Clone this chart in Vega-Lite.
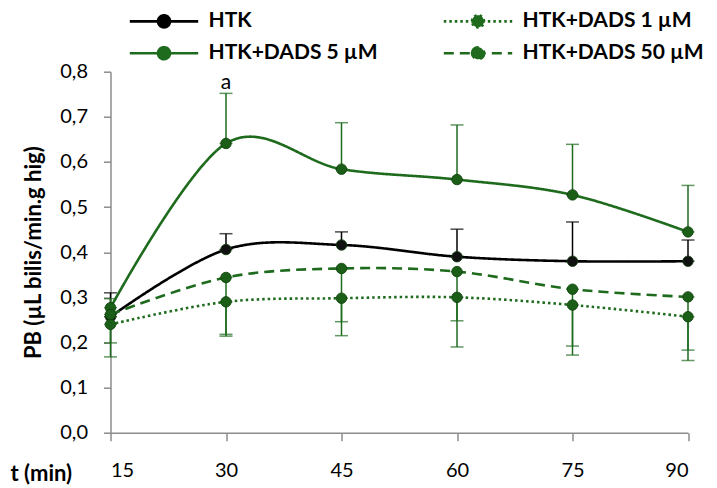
{
  "$schema": "https://vega.github.io/schema/vega-lite/v6.json",
  "autosize": {"type": "none"},
  "padding": {"left": 110.5, "top": 71.7, "right": 29, "bottom": 55.3},
  "width": 577.5,
  "height": 361,
  "background": "white",
  "config": {
    "view": {"stroke": null},
    "font": "Lato"
  },
  "data": {
    "values": [
      {"series": "HTK", "t": 15, "pb": 0.257, "lo": 0.257, "hi": 0.31},
      {"series": "HTK", "t": 30, "pb": 0.406, "lo": 0.406, "hi": 0.441},
      {"series": "HTK", "t": 45, "pb": 0.416, "lo": 0.416, "hi": 0.445},
      {"series": "HTK", "t": 60, "pb": 0.39, "lo": 0.39, "hi": 0.451},
      {"series": "HTK", "t": 75, "pb": 0.38, "lo": 0.38, "hi": 0.467},
      {"series": "HTK", "t": 90, "pb": 0.38, "lo": 0.38, "hi": 0.427},
      {"series": "HTK+DADS 5 µM", "t": 15, "pb": 0.277, "lo": 0.277, "hi": 0.297},
      {"series": "HTK+DADS 5 µM", "t": 30, "pb": 0.641, "lo": 0.641, "hi": 0.752},
      {"series": "HTK+DADS 5 µM", "t": 45, "pb": 0.584, "lo": 0.584, "hi": 0.687},
      {"series": "HTK+DADS 5 µM", "t": 60, "pb": 0.561, "lo": 0.561, "hi": 0.682},
      {"series": "HTK+DADS 5 µM", "t": 75, "pb": 0.527, "lo": 0.527, "hi": 0.639},
      {"series": "HTK+DADS 5 µM", "t": 90, "pb": 0.445, "lo": 0.445, "hi": 0.548},
      {"series": "HTK+DADS 1 µM", "t": 15, "pb": 0.24, "lo": 0.199, "hi": 0.24},
      {"series": "HTK+DADS 1 µM", "t": 30, "pb": 0.29, "lo": 0.218, "hi": 0.29},
      {"series": "HTK+DADS 1 µM", "t": 45, "pb": 0.298, "lo": 0.246, "hi": 0.298},
      {"series": "HTK+DADS 1 µM", "t": 60, "pb": 0.3, "lo": 0.248, "hi": 0.3},
      {"series": "HTK+DADS 1 µM", "t": 75, "pb": 0.283, "lo": 0.192, "hi": 0.283},
      {"series": "HTK+DADS 1 µM", "t": 90, "pb": 0.257, "lo": 0.183, "hi": 0.257},
      {"series": "HTK+DADS 50 µM", "t": 15, "pb": 0.262, "lo": 0.168, "hi": 0.262},
      {"series": "HTK+DADS 50 µM", "t": 30, "pb": 0.344, "lo": 0.214, "hi": 0.344},
      {"series": "HTK+DADS 50 µM", "t": 45, "pb": 0.364, "lo": 0.215, "hi": 0.364},
      {"series": "HTK+DADS 50 µM", "t": 60, "pb": 0.357, "lo": 0.19, "hi": 0.357},
      {"series": "HTK+DADS 50 µM", "t": 75, "pb": 0.318, "lo": 0.172, "hi": 0.318},
      {"series": "HTK+DADS 50 µM", "t": 90, "pb": 0.301, "lo": 0.16, "hi": 0.301}
    ]
  },
  "encoding": {
    "x": {
      "field": "t", "type": "quantitative",
      "scale": {"domain": [15, 90], "nice": false, "zero": false},
      "axis": {
        "values": [15, 30, 45, 60, 75, 90],
        "grid": false,
        "domainColor": "#8c8c8c", "domainWidth": 1.5,
        "tickColor": "#8c8c8c", "tickWidth": 1.5, "tickSize": 8,
        "labelFontSize": 20, "labelColor": "#000000", "labelPadding": 20,
        "title": "t (min)",
        "titleFontSize": 22, "titleFontWeight": "bold", "titleColor": "#000000",
        "titleAnchor": "start", "titleAlign": "left", "titleBaseline": "alphabetic",
        "titleX": -100.5, "titleY": 47.5
      }
    },
    "y": {
      "field": "pb", "type": "quantitative",
      "scale": {"domain": [0, 0.8], "nice": false},
      "axis": {
        "values": [0, 0.1, 0.2, 0.3, 0.4, 0.5, 0.6, 0.7, 0.8],
        "labelExpr": "replace(format(datum.value, '.1f'), '.', ',')",
        "grid": false,
        "domainColor": "#8c8c8c", "domainWidth": 1.5,
        "tickColor": "#8c8c8c", "tickWidth": 1.5, "tickSize": 7,
        "labelFontSize": 20, "labelColor": "#000000", "labelPadding": 16,
        "title": "PB (µL bilis/min.g hig)",
        "titleFontSize": 22, "titleFontWeight": "bold", "titleColor": "#000000",
        "titlePadding": 14
      }
    },
    "color": {
      "field": "series", "type": "nominal",
      "scale": {"domain": ["HTK", "HTK+DADS 5 µM", "HTK+DADS 1 µM", "HTK+DADS 50 µM"],
                "range": ["#000000", "#1e6b1e", "#1e6b1e", "#1e6b1e"]},
      "legend": {
        "title": null,
        "orient": "none",
        "legendX": 43,
        "legendY": -61,
        "columns": 2,
        "columnPadding": 60,
        "rowPadding": 9,
        "symbolType": "M-5.7,0H5.7M-1,0A1,1 0 1,1 1,0A1,1 0 1,1 -1,0Z",
        "symbolSize": 144,
        "symbolStrokeWidth": 2.6,
        "labelOffset": 34,
        "labelFontSize": 21,
        "labelFontWeight": "bold",
        "labelColor": "#000000",
        "labelLimit": 400,
        "encode": {
          "symbols": {"update": {"fill": {"scale": "color", "field": "value"}}}
        }
      }
    }
  },
  "layer": [
    {
      "mark": {"type": "rule", "strokeWidth": 1.5},
      "encoding": {
        "y": {"field": "lo", "type": "quantitative"},
        "y2": {"field": "hi"}
      }
    },
    {
      "mark": {"type": "tick", "orient": "horizontal", "size": 13, "thickness": 1.5},
      "encoding": {
        "y": {"field": "hi", "type": "quantitative"}
      }
    },
    {
      "mark": {"type": "tick", "orient": "horizontal", "size": 13, "thickness": 1.5},
      "encoding": {
        "y": {"field": "lo", "type": "quantitative"}
      }
    },
    {
      "mark": {"type": "line", "interpolate": "cardinal", "strokeWidth": 2.6},
      "encoding": {
        "strokeDash": {
          "field": "series", "type": "nominal",
          "scale": {"domain": ["HTK", "HTK+DADS 5 µM", "HTK+DADS 1 µM", "HTK+DADS 50 µM"],
                    "range": [[1, 0], [1, 0], [2.5, 3], [10, 6]]}
        }
      }
    },
    {
      "mark": {"type": "point", "filled": true, "size": 110, "opacity": 1, "stroke": "#0d3d0a", "strokeWidth": 0.8},
      "encoding": {
        "color": {"value": null},
        "fill": {"field": "series", "type": "nominal", "legend": null,
          "scale": {"domain": ["HTK", "HTK+DADS 5 µM", "HTK+DADS 1 µM", "HTK+DADS 50 µM"],
                    "range": ["#111111", "#1b5e17", "#1b5e17", "#1b5e17"]}}
      }
    },
    {
      "data": {"values": [{"t": 30, "pb": 0.776, "note": "a"}]},
      "mark": {"type": "text", "fontSize": 21, "baseline": "middle"},
      "encoding": {
        "color": {"value": "#000000"},
        "text": {"field": "note"}
      }
    }
  ]
}
